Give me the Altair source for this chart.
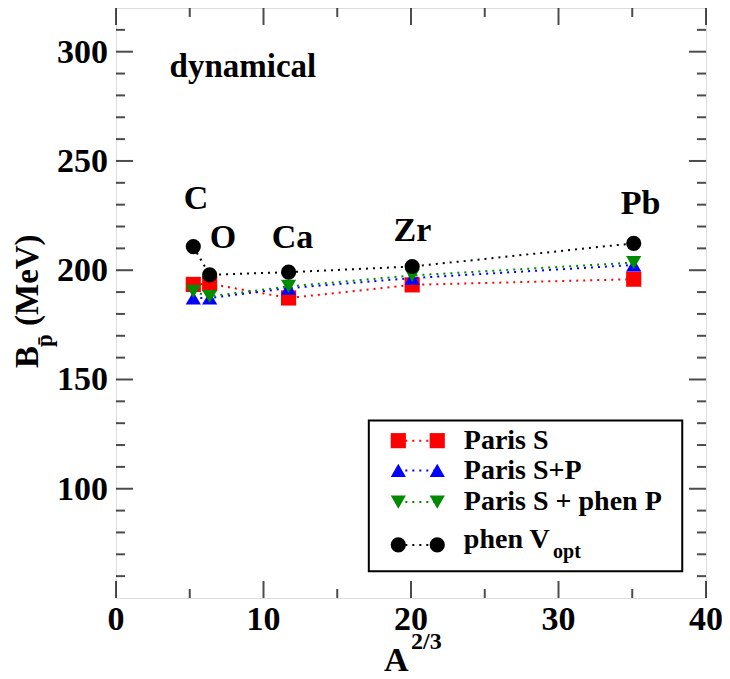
import altair as alt
import pandas as pd

# ---------------- data ----------------
nuclei = ["C", "O", "Ca", "Zr", "Pb"]
a23 = [5.24, 6.35, 11.70, 20.08, 35.10]
paris_s = [193.5, 193.8, 187.3, 193.3, 195.9]
paris_sp = [187.3, 187.3, 191.8, 196.4, 202.4]
paris_phen = [190.3, 188.0, 192.6, 197.6, 203.5]
phen_vopt = [210.8, 197.9, 199.1, 201.7, 212.3]

series_names = ["Paris S", "Paris S+P", "Paris S + phen P", "phen V"]
series_values = [paris_s, paris_sp, paris_phen, phen_vopt]
series_colors = ["#ff0000", "#0000ff", "#008b00", "#000000"]
series_shapes = ["square", "triangle-up", "triangle-down", "circle"]

# nucleus label anchors (data coords)
label_x = [5.43, 7.26, 11.97, 20.1, 35.56]
label_y = [227.9, 210.2, 210.2, 213.5, 225.6]

x_major = [0, 10, 20, 30, 40]
x_minor = [5, 15, 25, 35]
y_major = [100, 150, 200, 250, 300]
y_minor = [v for v in range(60, 320, 10) if v % 50 != 0]

# legend layout (data coords)
leg_row_y = [122.0, 108.4, 93.9, 74.3]
leg_text_y = [118.2, 104.6, 90.2, 72.8]
leg_sym_x1, leg_sym_x2, leg_text_x = 19.14, 21.78, 23.58
leg_box = dict(x=17.14, x2=38.39, y=62.2, y2=131.2)

W, H = 590, 590
FONT = "Liberation Serif, Times New Roman, Times, Nimbus Roman, DejaVu Serif, serif"

xs = alt.Scale(domain=[0, 40], nice=False, zero=False)
ys = alt.Scale(domain=[50, 320], nice=False, zero=False)


def X(f="x"):
    return alt.X(f"{f}:Q", scale=xs, axis=None)


def Y(f="y"):
    return alt.Y(f"{f}:Q", scale=ys, axis=None)


layers = []

# ticks (inward, all four sides)
def tick_layers(vals, length, axis):
    df = pd.DataFrame({"v": vals})
    base = alt.Chart(df)
    if axis == "x":
        m = dict(orient="vertical", size=length, thickness=2, color="black")
        return [base.mark_tick(**m).encode(x=X("v"), y=alt.value(H - length / 2)),
                base.mark_tick(**m).encode(x=X("v"), y=alt.value(length / 2))]
    m = dict(orient="horizontal", size=length, thickness=2, color="black")
    return [base.mark_tick(**m).encode(y=Y("v"), x=alt.value(length / 2)),
            base.mark_tick(**m).encode(y=Y("v"), x=alt.value(W - length / 2))]


layers += tick_layers(x_major, 17, "x")
layers += tick_layers(x_minor, 9, "x")
layers += tick_layers(y_major, 17, "y")
layers += tick_layers(y_minor, 9, "y")

# tick labels
xl_df = pd.DataFrame({"v": x_major, "t": [str(v) for v in x_major]})
layers.append(alt.Chart(xl_df).mark_text(font=FONT, fontSize=34, fontWeight="bold", color="black",
                                         align="center", baseline="alphabetic").encode(
    x=X("v"), y=alt.value(622), text="t:N"))
yl_df = pd.DataFrame({"v": y_major, "t": [str(v) for v in y_major]})
layers.append(alt.Chart(yl_df).mark_text(font=FONT, fontSize=34, fontWeight="bold", color="black",
                                         align="right", baseline="alphabetic", dy=11).encode(
    y=Y("v"), x=alt.value(-8), text="t:N"))

# series
for name, vals, col, shp in zip(series_names, series_values, series_colors, series_shapes):
    df = pd.DataFrame({"x": a23, "y": vals, "nucleus": nuclei})
    base = alt.Chart(df)
    layers.append(base.mark_line(color=col, strokeWidth=2, strokeDash=[2, 5]).encode(
        x=X(), y=Y(), order="x:Q"))
    layers.append(base.mark_point(shape=shp, filled=True, color=col, size=230, opacity=1).encode(
        x=X(), y=Y()))

# nucleus labels
lab_df = pd.DataFrame({"x": label_x, "y": label_y, "t": nuclei})
layers.append(alt.Chart(lab_df).mark_text(font=FONT, fontSize=34, fontWeight="bold",
                                          color="black", align="center", baseline="alphabetic").encode(
    x=X(), y=Y(), text="t:N"))

# "dynamical"
dyn_df = pd.DataFrame({"x": [3.63], "y": [288.2], "t": ["dynamical"]})
layers.append(alt.Chart(dyn_df).mark_text(font=FONT, fontSize=33, fontWeight="bold",
                                          color="black", align="left", baseline="alphabetic").encode(
    x=X(), y=Y(), text="t:N"))

# legend box
box_df = pd.DataFrame([leg_box])
layers.append(alt.Chart(box_df).mark_rect(fill="white", stroke="black", strokeWidth=2).encode(
    x=X("x"), x2="x2:Q", y=Y("y"), y2="y2:Q"))

for i, (name, col, shp) in enumerate(zip(series_names, series_colors, series_shapes)):
    ldf = pd.DataFrame({"x": [leg_sym_x1, leg_sym_x2], "y": [leg_row_y[i]] * 2})
    rdf = pd.DataFrame({"x": [leg_sym_x1], "x2": [leg_sym_x2], "y": [leg_row_y[i]]})
    layers.append(alt.Chart(rdf).mark_rule(color=col, strokeWidth=2, strokeDash=[2, 5]).encode(
        x=X("x"), x2="x2:Q", y=Y("y")))
    layers.append(alt.Chart(ldf).mark_point(shape=shp, filled=True, color=col, size=230, opacity=1).encode(
        x=X(), y=Y()))
    tdf = pd.DataFrame({"x": [leg_text_x], "y": [leg_text_y[i]], "t": [name]})
    layers.append(alt.Chart(tdf).mark_text(font=FONT, fontSize=28, fontWeight="bold", color="black",
                                           align="left", baseline="alphabetic").encode(
        x=X(), y=Y(), text="t:N"))

sub_df = pd.DataFrame({"x": [29.63], "y": [68.3], "t": ["opt"]})
layers.append(alt.Chart(sub_df).mark_text(font=FONT, fontSize=20, fontWeight="bold", color="black",
                                          align="left", baseline="alphabetic").encode(
    x=X(), y=Y(), text="t:N"))

# axis titles (as text pieces)
title_df = pd.DataFrame({"t": ["x"]})
tbase = alt.Chart(title_df)
txt = dict(font=FONT, fontWeight="bold", color="black", baseline="alphabetic", align="left")
layers.append(tbase.mark_text(fontSize=34, **txt).encode(
    x=alt.value(268), y=alt.value(663), text=alt.value("A")))
layers.append(tbase.mark_text(fontSize=24, **txt).encode(
    x=alt.value(295), y=alt.value(641), text=alt.value("2/3")))
layers.append(tbase.mark_text(fontSize=33, angle=270, **txt).encode(
    x=alt.value(-78), y=alt.value(360), text=alt.value("B")))
layers.append(tbase.mark_text(fontSize=23, angle=270, **txt).encode(
    x=alt.value(-64), y=alt.value(339), text=alt.value("p\u0304")))
layers.append(tbase.mark_text(fontSize=33, angle=270, **txt).encode(
    x=alt.value(-78), y=alt.value(318), text=alt.value("(MeV)")))

chart = alt.layer(*layers).properties(
    width=W, height=H, autosize="none",
    padding={"left": 108, "top": 0, "right": 16, "bottom": 81},
).configure_view(stroke="black", strokeWidth=2).configure(background="white")

chart.save("out.html", embed_options={"renderer": "svg", "actions": False})
